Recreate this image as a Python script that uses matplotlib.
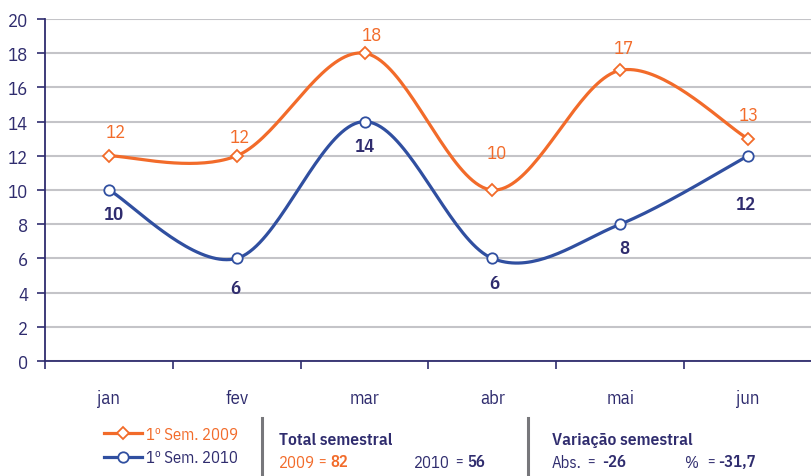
import numpy as np
import matplotlib
matplotlib.use("Agg")
import matplotlib.pyplot as plt
from matplotlib.lines import Line2D

# dados
meses = ["jan", "fev", "mar", "abr", "mai", "jun"]
sem_2009 = [12, 12, 18, 10, 17, 13]
sem_2010 = [10, 6, 14, 6, 8, 12]
total_2009 = 82
total_2010 = 56
var_abs = "-26"
var_pct = "-31,7"

# cores
LARANJA = "#F26B2A"
AZUL = "#304FA0"
NAVY = "#2F2C6E"
GRELHA = "#C4C4C8"

plt.rcParams['font.family'] = ['IBM Plex Sans Condensed', 'DejaVu Sans']


def suavizar(x, y, n=40):
    # curva tipo Catmull-Rom (como a linha suavizada do Excel)
    p = np.column_stack([x, y]).astype(float)
    p = np.vstack([p[0], p, p[-1]])
    out = []
    t = np.linspace(0, 1, n)[:, None]
    for i in range(1, len(p) - 2):
        p0, p1, p2, p3 = p[i - 1], p[i], p[i + 1], p[i + 2]
        c1 = p1 + (p2 - p0) / 6
        c2 = p2 - (p3 - p1) / 6
        seg = ((1 - t) ** 3) * p1 + 3 * ((1 - t) ** 2) * t * c1 + 3 * (1 - t) * t ** 2 * c2 + t ** 3 * p2
        out.append(seg if i == 1 else seg[1:])
    out = np.vstack(out)
    return out[:, 0], out[:, 1]


W, H = 812, 477
fig = plt.figure(figsize=(W / 100, H / 100), dpi=100)
ax = fig.add_axes([45 / W, 1 - 362 / H, (W - 45) / W, 342 / H])

x = np.arange(len(meses))

for y, cor, mk, ms in [(sem_2009, LARANJA, "D", 6.5), (sem_2010, AZUL, "o", 7.5)]:
    xs, ys = suavizar(x, y)
    ax.plot(xs, ys, color=cor, lw=2.3, zorder=3, solid_capstyle="round")
    ax.plot(x, y, ls="none", marker=mk, ms=ms, mfc="white", mec=cor, mew=1.3, zorder=4)

# rótulos de dados (deslocamentos em px)
desl_2009 = [(7, 24), (3, 19), (8, 18), (5, 37), (4, 22), (1, 24)]
desl_2010 = [(5, -24), (-1, -30), (0, -24), (2, -25), (4, -24), (-3, -48)]
for i in range(len(meses)):
    dx, dy = desl_2009[i]
    ax.annotate(str(sem_2009[i]), (x[i], sem_2009[i]), xytext=(dx * 0.72, dy * 0.72),
                textcoords="offset points", ha="center", va="center",
                color=LARANJA, fontsize=13.5, zorder=5)
    dx, dy = desl_2010[i]
    ax.annotate(str(sem_2010[i]), (x[i], sem_2010[i]), xytext=(dx * 0.72, dy * 0.72),
                textcoords="offset points", ha="center", va="center",
                color=NAVY, fontsize=13.5, fontweight="semibold", zorder=5)

ax.set_xlim(-0.5, -0.5 + (W - 45) / 129.4)
ax.set_ylim(0, 20)
ax.set_yticks(range(0, 21, 2))
ax.set_xticks(x)
ax.set_xticklabels(meses)
ax.set_xticks(np.arange(-0.5, len(meses), 1), minor=True)
ax.tick_params(axis="x", which="major", length=0, pad=20, labelsize=13.5, labelcolor=NAVY)
ax.tick_params(axis="x", which="minor", length=6, width=1.2, color=NAVY, direction="out")
ax.tick_params(axis="y", length=6, width=1.2, color=NAVY, pad=6, labelsize=13.5, labelcolor=NAVY)

ax.yaxis.grid(True, color=GRELHA, lw=1.5, zorder=0)
ax.set_axisbelow(True)
for s in ["top", "right"]:
    ax.spines[s].set_visible(False)
for s in ["left", "bottom"]:
    ax.spines[s].set_color(NAVY)
    ax.spines[s].set_linewidth(1.3)

# legenda
handles = [
    Line2D([], [], color=LARANJA, lw=2.3, marker="D", ms=6.5, mfc="white", mec=LARANJA, mew=1.3),
    Line2D([], [], color=AZUL, lw=2.3, marker="o", ms=7.5, mfc="white", mec=AZUL, mew=1.3),
]
leg = fig.legend(handles, ["1º Sem. 2009", "1º Sem. 2010"], loc="upper left",
                 bbox_to_anchor=(104 / W, 1 - 427 / H), frameon=False, fontsize=12,
                 handlelength=2.3, handletextpad=0.25, labelspacing=0.45, borderpad=0,
                 borderaxespad=0)
leg.get_texts()[0].set_color(LARANJA)
leg.get_texts()[1].set_color(NAVY)


def ftxt(px, py, s, cor=NAVY, peso="normal", fs=12):
    fig.text(px / W, 1 - py / H, s, color=cor, fontweight=peso, fontsize=fs,
             ha="left", va="center")


# separadores
for sx in [262, 528]:
    fig.add_artist(Line2D([sx / W, sx / W], [1 - 419 / H, 0], color="#77777B", lw=2.2))

ftxt(279, 441, "Total semestral", peso="semibold", fs=12.5)
ftxt(279, 463, "2009", cor=LARANJA)
ftxt(318, 463, "=", cor=LARANJA, fs=10)
ftxt(330, 463, str(total_2009), cor=LARANJA, peso="semibold")
ftxt(414, 463, "2010")
ftxt(455, 463, "=", fs=10)
ftxt(467, 463, str(total_2010), peso="semibold")

ftxt(552, 441, "Variação semestral", peso="semibold", fs=12.5)
ftxt(552, 463, "Abs.")
ftxt(587, 463, "=", fs=10)
ftxt(602, 463, var_abs, peso="semibold")
ftxt(685, 463, "%")
ftxt(707, 463, "=", fs=10)
ftxt(718, 463, var_pct, peso="semibold")

fig.savefig("out.png", dpi=100)
